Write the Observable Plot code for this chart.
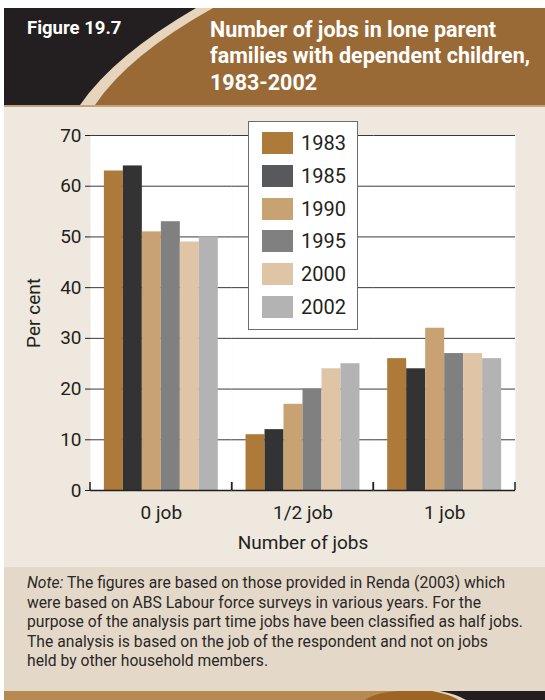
<!DOCTYPE html>
<html>
<head>
<meta charset="utf-8">
<script src="https://cdn.jsdelivr.net/npm/d3@7"></script>
<script src="https://cdn.jsdelivr.net/npm/@observablehq/plot@0.6"></script>
<style>
  body { margin: 0; background: #ffffff; }
  #figure {
    position: absolute; left: 4px; top: 8px; width: 541px; height: 692px;
    font-family: Roboto, "Liberation Sans", sans-serif;
    color: #231f20;
  }
  #header { position: relative; height: 97px; background: #231f20; overflow: hidden; }
  #header svg { position: absolute; left: 0; top: 0; }
  #fig-no {
    position: absolute; left: 23px; top: 10px; font-size: 18.5px; line-height: 20px;
    font-weight: bold; color: #ffffff; white-space: nowrap;
  }
  #title {
    position: absolute; left: 206px; top: 8px; font-size: 22.5px; line-height: 26.3px;
    font-weight: bold; color: #ffffff; white-space: nowrap;
  }
  #rule { height: 2px; background: #c4a27a; }
  #panel { position: relative; height: 460px; background: #efe8de; }
  #legend {
    position: absolute; left: 244px; top: 14px; width: 108px; height: 207px;
    background: #ffffff; border: 1px solid #6d6d6d;
  }
  .row { position: absolute; left: 13px; height: 22px; }
  .swatch { position: absolute; left: 0; top: 0; width: 31px; height: 22px; }
  .label {
    position: absolute; left: 39px; top: -1px; font-size: 20px; line-height: 24px;
    white-space: nowrap;
  }
  #note {
    position: relative; height: 124px; background: #e4d9c9; color: #2b2728;
  }
  #note-text {
    position: absolute; left: 23px; top: 6px; font-size: 16.5px; line-height: 19.5px;
    white-space: nowrap;
  }
  #footer { height: 9px; position: relative; }
  #footer svg { position: absolute; left: 0; top: 0; }
</style>
</head>
<body>
<div id="figure">
  <div id="header">
    <svg width="541" height="97">
      <path d="M192,0 Q110,47.5 76,97 L541,97 L541,0 Z" fill="#e6d4bd"></path>
      <path d="M209,0 Q124,47.5 91,97 L541,97 L541,0 Z" fill="#996a36"></path>
    </svg>
    <div id="fig-no">Figure 19.7</div>
    <div id="title">Number of jobs in lone parent<br>families with dependent children,<br>1983-2002</div>
  </div>
  <div id="rule"></div>
  <div id="panel">
    <div id="chart"></div>
    <div id="legend"></div>
  </div>
  <div id="note">
    <div id="note-text">
      <i>Note:</i> The figures are based on those provided in Renda (2003) which<br>
      were based on ABS Labour force surveys in various years. For the<br>
      purpose of the analysis part time jobs have been classified as half jobs.<br>
      The analysis is based on the job of the respondent and not on jobs<br>
      held by other household members.
    </div>
  </div>
  <div id="footer">
    <svg width="541" height="9">
      <rect width="541" height="9" fill="#b68a52"></rect>
      <path d="M361,9 Q372,1 396,0 L541,0 L541,9 Z" fill="#9c6524"></path>
      <path d="M428,0 Q445,3 455,9 L541,9 L541,0 Z" fill="#e6d5bf"></path>
      <path d="M436,0 Q452,3 462,9 L541,9 L541,0 Z" fill="#231f20"></path>
    </svg>
  </div>
</div>
<script>
// Share of lone parent families with dependent children, by number of jobs held
const categories = ["0 job", "1/2 job", "1 job"];
const years = ["1983", "1985", "1990", "1995", "2000", "2002"];
const jobs1983 = [63, 11, 26];
const jobs1985 = [64, 12, 24];
const jobs1990 = [51, 17, 32];
const jobs1995 = [53, 20, 27];
const jobs2000 = [49, 24, 27];
const jobs2002 = [50, 25, 26];
const yTicks = [0, 10, 20, 30, 40, 50, 60, 70];

const barColors = ["#ae7a3a", "#333333", "#c9a274", "#808080", "#dfc5a5", "#b3b3b3"];
const swatchColors = ["#ae7a3a", "#58595b", "#c9a274", "#808080", "#dfc5a5", "#b3b3b3"];

const series = [jobs1983, jobs1985, jobs1990, jobs1995, jobs2000, jobs2002];
const rows = years.flatMap((year, i) =>
  categories.map((category, j) => ({category, year, value: series[i][j]}))
);

// Condense a text block horizontally so that it spans the given width
function fitWidth(el, targetWidth) {
  const natural = el.getBoundingClientRect().width;
  el.style.transformOrigin = "0 0";
  el.style.transform = `scaleX(${targetWidth / natural})`;
}
fitWidth(document.getElementById("title"), 320);
fitWidth(document.getElementById("note-text"), 496);

// Short upright ticks on the baseline at the edges of each category group
function groupEdges(index, scales, values, dimensions) {
  const range = scales.x.range();
  const y0 = scales.y(0);
  const g = d3.create("svg:g").attr("stroke", "#231f20").attr("stroke-width", 1.5);
  for (const x of [Math.min(...range), Math.max(...range)]) {
    g.append("line").attr("x1", x).attr("x2", x).attr("y1", y0).attr("y2", y0 - 8);
  }
  return g.node();
}

const chart = Plot.plot({
  width: 541,
  height: 460,
  marginLeft: 86,
  marginRight: 30,
  marginTop: 28,
  marginBottom: 77,
  style: {background: "transparent", fontFamily: "Roboto, sans-serif", fontSize: "19px",
          color: "#231f20", overflow: "visible"},
  facet: {data: rows, x: "category"},
  fx: {domain: categories, padding: 0, round: false, axis: "bottom", tickSize: 0, tickPadding: 15,
       label: "Number of jobs", labelAnchor: "center", labelOffset: 58, labelArrow: "none"},
  x: {domain: years, paddingInner: 0, paddingOuter: 0.73, round: false, axis: null},
  y: {domain: [0, 70], ticks: yTicks, tickSize: 5, tickPadding: 4,
      label: "Per cent", labelAnchor: "center", labelOffset: 64, labelArrow: "none"},
  color: {domain: years, range: barColors},
  marks: [
    Plot.frame({fill: "white", stroke: "none"}),
    Plot.ruleY(yTicks.slice(1), {stroke: "#3a3a3a", strokeWidth: 1}),
    Plot.barY(rows, {x: "year", y: "value", fill: "year"}),
    Plot.ruleY([0], {stroke: "#231f20", strokeWidth: 1.5}),
    groupEdges
  ]
});
document.getElementById("chart").appendChild(chart);

// Legend box listing the survey years
const legend = d3.select("#legend");
years.forEach((year, i) => {
  const row = legend.append("div").attr("class", "row").style("top", `${10 + i * 32.8}px`);
  row.append("div").attr("class", "swatch").style("background", swatchColors[i]);
  row.append("div").attr("class", "label").text(year);
});
</script>
</body>
</html>
